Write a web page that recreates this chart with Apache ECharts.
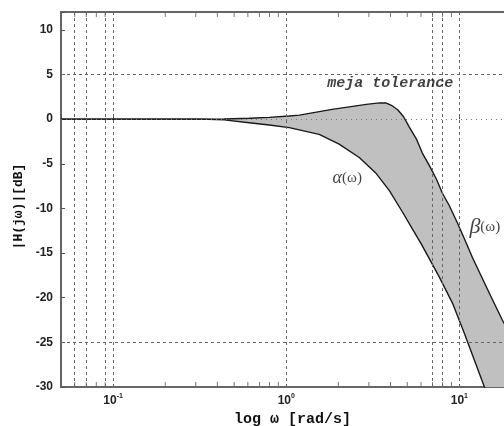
<!DOCTYPE html>
<html>
<head>
<meta charset="utf-8">
<script src="https://cdn.jsdelivr.net/npm/echarts@6/dist/echarts.min.js"></script>
<style>
  html, body { margin: 0; padding: 0; background: #fff; }
  #chart { width: 504px; height: 426px; }
</style>
</head>
<body>
<div id="chart"></div>
<script>
// lower bound alpha(w) and upper bound beta(w), w in rad/s, magnitude in dB
var alphaW = [0.05, 0.314, 0.438, 0.611, 0.798, 1.04, 1.55, 2.02, 2.64, 3.31, 3.94, 4.69, 5.35, 6.03, 7.66, 9.12, 10.69, 13.95, 15.9];
var alphaDb = [0, 0, -0.08, -0.4, -0.65, -0.95, -1.7, -2.8, -4.3, -6.1, -8.0, -10.4, -12.3, -14.0, -17.7, -20.6, -24, -30, -32.5];

var betaW = [0.05, 0.314, 0.438, 0.611, 0.798, 1.04, 1.19, 1.84, 2.9, 3.45, 3.78, 4.05, 4.4, 4.75, 5.14, 5.64, 6.11, 6.71, 7.36, 7.98, 8.75, 9.73, 10.69, 11.89, 14.9, 17.7, 22.2];
var betaDb = [0, 0, 0.02, 0.1, 0.2, 0.35, 0.45, 1.1, 1.65, 1.82, 1.8, 1.55, 1.05, 0.3, -0.9, -2.2, -3.8, -5.2, -6.7, -8.3, -9.7, -11.6, -13.4, -15.5, -19.5, -22.5, -26];

// grid lines that survived in the original figure
var vGrid = [0.06, 0.07, 0.09, 0.1, 1, 7, 8, 10];
var hGrid = [5, -25];
var minorTicks = [0.06, 0.07, 0.08, 0.09, 0.2, 0.3, 0.4, 0.5, 0.6, 0.7, 0.8, 0.9, 2, 3, 4, 5, 6, 7, 8, 9];

var chart = echarts.init(document.getElementById('chart'));

function pairs(xs, ys) {
  return xs.map(function (x, i) { return [x, ys[i]]; });
}

var tickColor = '#555';

chart.setOption({
  animation: false,
  grid: {
    left: 61,
    top: 12,
    bottom: 39,
    right: -38,
    outerBoundsMode: 'none',
    containLabel: false,
    show: true,
    borderColor: '#666',
    borderWidth: 2
  },
  xAxis: {
    type: 'log',
    min: 0.05,
    max: 30,
    axisLine: { show: false },
    axisTick: { inside: true, length: 5, lineStyle: { color: tickColor } },
    splitLine: { show: false },
    axisLabel: {
      margin: 6,
      formatter: function (v) {
        var e = Math.round(Math.log10(v));
        if (Math.abs(Math.log10(v) - e) > 1e-6) return '';
        return '{b|10}{s|' + e + '}';
      },
      rich: {
        b: { fontSize: 12, fontWeight: 'bold', fontFamily: 'Liberation Sans', color: '#222' },
        s: { fontSize: 7, fontWeight: 'bold', fontFamily: 'Liberation Sans', color: '#222', padding: [0, 0, 8, 0] }
      }
    },
    name: 'log ω [rad/s]',
    nameLocation: 'middle',
    nameGap: 23,
    nameTextStyle: {
      fontFamily: 'Liberation Mono',
      fontWeight: 'bold',
      fontSize: 15,
      color: '#111',
      padding: [0, 18, 0, 0]
    }
  },
  yAxis: {
    type: 'value',
    min: -30,
    max: 12,
    interval: 5,
    axisLine: { show: false },
    axisTick: { inside: true, length: 4, lineStyle: { color: tickColor } },
    splitLine: { show: false },
    axisLabel: {
      margin: 8,
      fontSize: 12,
      fontWeight: 'bold',
      fontFamily: 'Liberation Sans',
      color: '#222',
      formatter: function (v) { return v % 5 === 0 ? String(v) : ''; }
    },
    name: '|H(jω)|[dB]',
    nameLocation: 'middle',
    nameGap: 36,
    nameTextStyle: {
      fontFamily: 'Liberation Mono',
      fontWeight: 'bold',
      fontSize: 13,
      color: '#111',
      padding: [0, 14, 0, 0]
    }
  },
  series: [
    {
      // grid lines
      type: 'line',
      data: [],
      z: 1,
      markLine: {
        silent: true,
        symbol: 'none',
        label: { show: false },
        animation: false,
        data: vGrid.map(function (v) {
          return { xAxis: v, lineStyle: { color: '#666', type: [3, 3], width: 1 } };
        }).concat(hGrid.map(function (v) {
          return { yAxis: v, lineStyle: { color: '#666', type: [3, 3], width: 1 } };
        })).concat([
          { yAxis: 0, lineStyle: { color: '#777', type: [1, 4], width: 1 } }
        ])
      }
    },
    {
      // minor ticks bottom
      type: 'scatter',
      z: 2,
      silent: true,
      symbol: 'rect',
      symbolSize: [1, 4],
      symbolOffset: [0, -3],
      itemStyle: { color: tickColor },
      data: minorTicks.map(function (v) { return [v, -30]; })
    },
    {
      // minor ticks top
      type: 'scatter',
      z: 2,
      silent: true,
      symbol: 'rect',
      symbolSize: [1, 4],
      symbolOffset: [0, 3],
      itemStyle: { color: tickColor },
      data: minorTicks.map(function (v) { return [v, 12]; })
    },
    {
      // tolerance band
      type: 'custom',
      z: 3,
      clip: true,
      silent: true,
      data: [[1, 0]],
      renderItem: function (params, api) {
        var pts = [];
        for (var i = 0; i < betaW.length; i++) pts.push(api.coord([betaW[i], betaDb[i]]));
        for (var j = alphaW.length - 1; j >= 0; j--) pts.push(api.coord([alphaW[j], alphaDb[j]]));
        return { type: 'polygon', shape: { points: pts }, style: { fill: '#c0c0c0' } };
      }
    },
    {
      name: 'alpha',
      type: 'line',
      z: 4,
      showSymbol: false,
      data: pairs(alphaW, alphaDb),
      lineStyle: { color: '#1a1a1a', width: 1.4 }
    },
    {
      name: 'beta',
      type: 'line',
      z: 4,
      showSymbol: false,
      data: pairs(betaW, betaDb),
      lineStyle: { color: '#1a1a1a', width: 1.4 }
    },
    {
      // annotations
      type: 'scatter',
      z: 5,
      silent: true,
      symbolSize: 0,
      data: [
        { value: [3.99, 4.0], label: { show: true, position: 'inside', formatter: 'meja tolerance',
          fontFamily: 'Liberation Mono', fontWeight: 'bold', fontStyle: 'italic', fontSize: 15, color: '#111' } },
        { value: [2.25, -6.6], label: { show: true, position: 'inside', formatter: '{a|α}{b|(ω)}',
          rich: {
            a: { fontFamily: 'Liberation Serif', fontStyle: 'italic', fontSize: 18, color: '#111' },
            b: { fontFamily: 'Liberation Serif', fontSize: 15, color: '#111' }
          } } },
        { value: [11.42, -12.1], label: { show: true, position: 'right', distance: 0, formatter: '{a|β}{b|(ω)}',
          rich: {
            a: { fontFamily: 'Liberation Serif', fontStyle: 'italic', fontSize: 22, color: '#111' },
            b: { fontFamily: 'Liberation Serif', fontSize: 15, color: '#111' }
          } } }
      ]
    }
  ]
});
</script>
</body>
</html>
